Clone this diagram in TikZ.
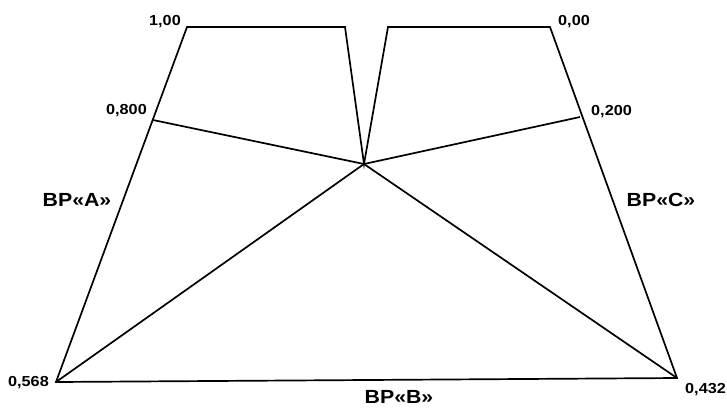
\documentclass[tikz,border=0pt]{standalone}
\usepackage{fontspec}
\setmainfont{Liberation Sans}[FakeStretch=1.12]
\begin{document}
\begin{tikzpicture}[x=1bp,y=-1bp,
  edge/.style={line width=1.7bp,line join=miter,black},
  num/.style={font=\bfseries\fontsize{14.5bp}{16bp}\selectfont,inner sep=0pt},
  lab/.style={font=\bfseries\fontsize{19bp}{21bp}\selectfont,inner sep=0pt}]
\useasboundingbox (0,0) rectangle (727,408);
\coordinate (BL) at (56,382);
\coordinate (TL) at (187,27);
\coordinate (TLr) at (345,27);
\coordinate (O) at (364,164);
\coordinate (TRl) at (388,27);
\coordinate (TR) at (550,27);
\coordinate (BR) at (677,378);
\coordinate (A8) at (153,120);
\coordinate (C2) at (580,117);
\draw[edge] (BL) -- (TL) -- (TLr) -- (O) -- (TRl) -- (TR) -- (BR) -- cycle;
\draw[edge] (O) -- (A8);
\draw[edge] (O) -- (C2);
\draw[edge] (O) -- (BL);
\draw[edge] (O) -- (BR);
\node[num,anchor=east] (n100) at (181,22) {1,00};
\node[num,anchor=west] (n000) at (558,22) {0,00};
\node[num,anchor=east] (n800) at (147,111) {0,800};
\node[num,anchor=west] (n200) at (591,112) {0,200};
\node[num,anchor=east] (n568) at (49,383) {0,568};
\node[num,anchor=west] (n432) at (685,390) {0,432};
\node[lab] (la) at (77,200) {ВР«А»};
\node[lab] (lc) at (661,200) {ВР«С»};
\node[lab] (lb) at (399,397) {ВР«В»};
\end{tikzpicture}
\end{document}
